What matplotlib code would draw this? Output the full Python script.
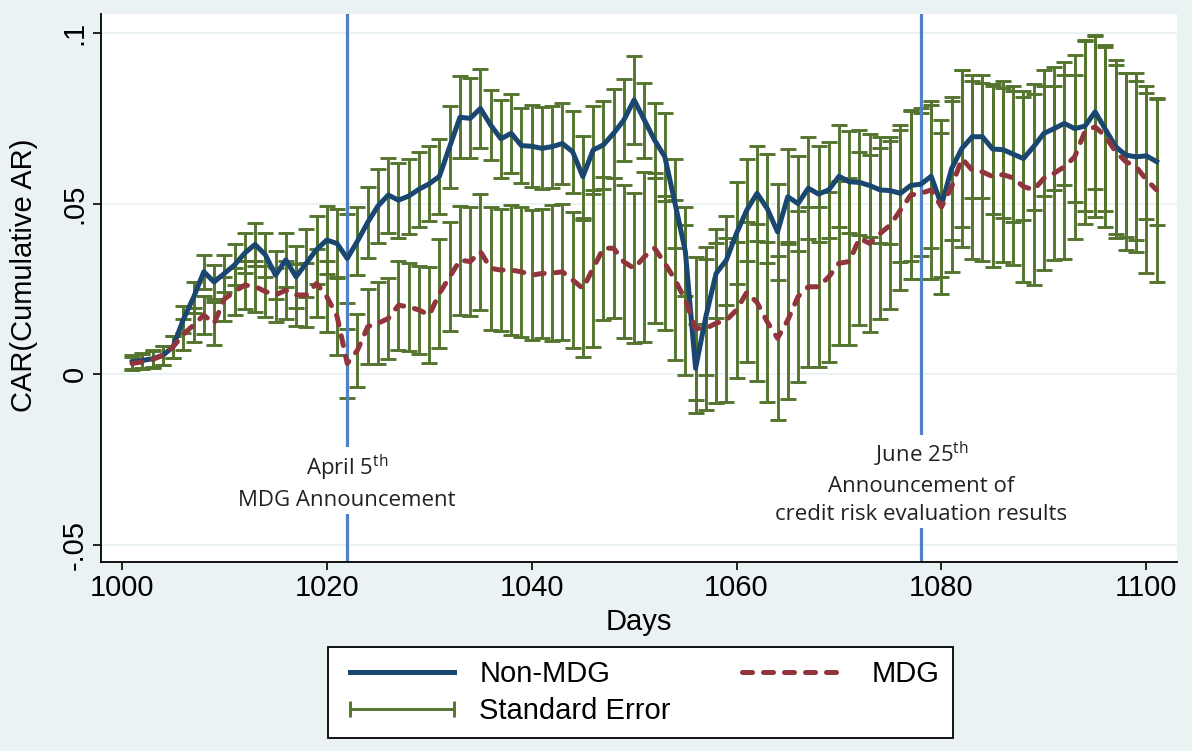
import numpy as np
import matplotlib.pyplot as plt
from matplotlib.lines import Line2D

plt.rcParams['font.family'] = ['Liberation Sans', 'DejaVu Sans']
plt.rcParams['mathtext.fontset'] = 'custom'
plt.rcParams['mathtext.rm'] = 'Open Sans'

# event window, days 1001..1101
days = np.arange(1001, 1102)

non_mdg = [0.0036, 0.0040, 0.0045, 0.0055, 0.0080,   # 1001-1005
           0.0160, 0.0225, 0.0300, 0.0270, 0.0295,   # 1006-1010
           0.0320, 0.0355, 0.0380, 0.0350, 0.0290,   # 1011-1015
           0.0335, 0.0285, 0.0325, 0.0365, 0.0393,   # 1016-1020
           0.0383, 0.0339, 0.0390, 0.0445, 0.0493,   # 1021-1025
           0.0525, 0.0510, 0.0522, 0.0542, 0.0558,   # 1026-1030
           0.0580, 0.0667, 0.0753, 0.0750, 0.0779,   # 1031-1035
           0.0730, 0.0690, 0.0706, 0.0670, 0.0668,   # 1036-1040
           0.0662, 0.0667, 0.0676, 0.0652, 0.0579,   # 1041-1045
           0.0657, 0.0672, 0.0706, 0.0745, 0.0804,   # 1046-1050
           0.0745, 0.0686, 0.0637, 0.0500, 0.0360,   # 1051-1055
           0.0017, 0.0168, 0.0295, 0.0334, 0.0413,   # 1056-1060
           0.0481, 0.0530, 0.0485, 0.0417, 0.0520,   # 1061-1065
           0.0500, 0.0545, 0.0528, 0.0540, 0.0580,   # 1066-1070
           0.0564, 0.0562, 0.0553, 0.0540, 0.0538,   # 1071-1075
           0.0530, 0.0553, 0.0557, 0.0580, 0.0496,   # 1076-1080
           0.0603, 0.0662, 0.0696, 0.0696, 0.0660,   # 1081-1085
           0.0658, 0.0645, 0.0632, 0.0667, 0.0706,   # 1086-1090
           0.0720, 0.0735, 0.0720, 0.0727, 0.0769,   # 1091-1095
           0.0718, 0.0667, 0.0642, 0.0637, 0.0640,   # 1096-1100
           0.0623]

mdg = [0.0031, 0.0036, 0.0043, 0.0055, 0.0080,   # 1001-1005
       0.0116, 0.0144, 0.0173, 0.0148, 0.0220,   # 1006-1010
       0.0242, 0.0261, 0.0257, 0.0242, 0.0232,   # 1011-1015
       0.0246, 0.0232, 0.0232, 0.0266, 0.0227,   # 1016-1020
       0.0170, 0.0031, 0.0070, 0.0139, 0.0149,   # 1021-1025
       0.0163, 0.0202, 0.0197, 0.0188, 0.0173,   # 1026-1030
       0.0237, 0.0285, 0.0334, 0.0330, 0.0359,   # 1031-1035
       0.0310, 0.0305, 0.0305, 0.0300, 0.0290,   # 1036-1040
       0.0295, 0.0296, 0.0300, 0.0276, 0.0251,   # 1041-1045
       0.0310, 0.0369, 0.0369, 0.0329, 0.0310,   # 1046-1050
       0.0344, 0.0369, 0.0325, 0.0276, 0.0217,   # 1051-1055
       0.0134, 0.0134, 0.0149, 0.0158, 0.0188,   # 1056-1060
       0.0240, 0.0210, 0.0153, 0.0105, 0.0158,   # 1061-1065
       0.0227, 0.0256, 0.0256, 0.0285, 0.0325,   # 1066-1070
       0.0330, 0.0398, 0.0383, 0.0412, 0.0437,   # 1071-1075
       0.0481, 0.0525, 0.0530, 0.0540, 0.0490,   # 1076-1080
       0.0550, 0.0632, 0.0598, 0.0593, 0.0579,   # 1081-1085
       0.0585, 0.0575, 0.0550, 0.0540, 0.0574,   # 1086-1090
       0.0589, 0.0608, 0.0637, 0.0711, 0.0725,   # 1091-1095
       0.0698, 0.0652, 0.0623, 0.0608, 0.0570,   # 1096-1100
       0.0540]

se_non_mdg = [0.0020, 0.0022, 0.0025, 0.0028, 0.0032,
              0.0040, 0.0045, 0.0050, 0.0050, 0.0055,
              0.0060, 0.0060, 0.0062, 0.0065, 0.0070,
              0.0080, 0.0090, 0.0100, 0.0100, 0.0100,
              0.0100, 0.0130, 0.0100, 0.0105, 0.0108,
              0.0110, 0.0110, 0.0110, 0.0110, 0.0110,
              0.0110, 0.0120, 0.0120, 0.0117, 0.0116,
              0.0103, 0.0114, 0.0115, 0.0110, 0.0120,
              0.0120, 0.0120, 0.0120, 0.0120, 0.0120,
              0.0130, 0.0130, 0.0130, 0.0120, 0.0130,
              0.0110, 0.0110, 0.0130, 0.0130, 0.0130,
              0.0130, 0.0170, 0.0130, 0.0130, 0.0150,
              0.0150, 0.0140, 0.0160, 0.0140, 0.0140,
              0.0140, 0.0150, 0.0140, 0.0140, 0.0150,
              0.0150, 0.0155, 0.0150, 0.0156, 0.0156,
              0.0200, 0.0220, 0.0210, 0.0210, 0.0210,
              0.0210, 0.0230, 0.0180, 0.0180, 0.0190,
              0.0200, 0.0200, 0.0180, 0.0185, 0.0185,
              0.0180, 0.0180, 0.0215, 0.0250, 0.0225,
              0.0240, 0.0255, 0.0240, 0.0245, 0.0185,
              0.0185]

se_mdg = [0.0020, 0.0022, 0.0025, 0.0028, 0.0032,
          0.0045, 0.0050, 0.0055, 0.0063, 0.0065,
          0.0068, 0.0070, 0.0074, 0.0075, 0.0080,
          0.0085, 0.0090, 0.0095, 0.0100, 0.0105,
          0.0114, 0.0100, 0.0107, 0.0110, 0.0120,
          0.0120, 0.0130, 0.0130, 0.0130, 0.0140,
          0.0160, 0.0160, 0.0160, 0.0160, 0.0170,
          0.0180, 0.0180, 0.0190, 0.0190, 0.0190,
          0.0190, 0.0200, 0.0200, 0.0200, 0.0200,
          0.0230, 0.0210, 0.0206, 0.0224, 0.0220,
          0.0250, 0.0220, 0.0196, 0.0235, 0.0220,
          0.0210, 0.0240, 0.0235, 0.0240, 0.0200,
          0.0206, 0.0230, 0.0234, 0.0240, 0.0230,
          0.0250, 0.0235, 0.0235, 0.0250, 0.0240,
          0.0245, 0.0254, 0.0260, 0.0250, 0.0247,
          0.0235, 0.0245, 0.0250, 0.0260, 0.0255,
          0.0250, 0.0260, 0.0260, 0.0260, 0.0265,
          0.0255, 0.0255, 0.0280, 0.0280, 0.0270,
          0.0255, 0.0270, 0.0240, 0.0270, 0.0265,
          0.0266, 0.0254, 0.0260, 0.0250, 0.0275,
          0.0270]

event_days = [1022, 1078]
event_labels = ["April 5$^{\\mathrm{th}}$\nMDG Announcement",
                "June 25$^{\\mathrm{th}}$\nAnnouncement of\ncredit risk evaluation results"]
event_label_y = [-0.0316, -0.0318]

y_ticks = [-0.05, 0, 0.05, 0.1]
y_ticklabels = ["-.05", "0", ".05", ".1"]
x_ticks = [1000, 1020, 1040, 1060, 1080, 1100]

navy = "#1a476f"
maroon = "#90353b"
green = "#55752f"
vline_col = "#4f81c4"
bg = "#eaf2f3"

fig = plt.figure(figsize=(11.92, 7.51), dpi=100, facecolor=bg)
ax = fig.add_axes([0.0847, 0.2517, 0.9027, 0.7297])
ax.set_facecolor("white")

for vals, se in [(non_mdg, se_non_mdg), (mdg, se_mdg)]:
    ax.errorbar(days, vals, yerr=se, fmt="none", ecolor=green,
                elinewidth=2.1, capsize=5.5, capthick=2.1, zorder=2)

for d in event_days:
    ax.axvline(d, color=vline_col, lw=2.3, zorder=2.5)

ax.plot(days, non_mdg, color=navy, lw=3.6, zorder=3, solid_joinstyle="round")
ax.plot(days, mdg, color=maroon, lw=3.6, ls=(0, (2.0, 2.2)),
        dash_capstyle="round", zorder=3)

for d, txt, y in zip(event_days, event_labels, event_label_y):
    ax.text(d, y, txt, ha="center", va="center", fontsize=16,
            family=["Open Sans", "DejaVu Sans"], linespacing=1.45,
            color="#222222", zorder=4,
            bbox=dict(facecolor="white", edgecolor="none", pad=2))

ax.set_xlim(997.96, 1102.99)
ax.set_ylim(-0.0551, 0.1056)
ax.set_xticks(x_ticks)
ax.set_yticks(y_ticks)
ax.set_yticklabels(y_ticklabels, rotation=90, va="center")
ax.tick_params(labelsize=21, length=6, width=1.2, color="black", pad=3)
ax.grid(axis="y", color=bg, lw=1.3)
ax.set_axisbelow(True)
for s in ["top", "right"]:
    ax.spines[s].set_visible(False)
for s in ["left", "bottom"]:
    ax.spines[s].set_linewidth(1.3)

ax.set_xlabel("Days", fontsize=21, labelpad=4)
ax.set_ylabel("CAR(Cumulative AR)", fontsize=21)
ax.yaxis.set_label_coords(-0.0586, 0.524)

h_non = Line2D([], [], color=navy, lw=3.6)
h_mdg = Line2D([], [], color=maroon, lw=3.6, ls=(0, (2.0, 2.2)), dash_capstyle="round")
h_se = Line2D([], [], color=green, lw=2.1, marker="|", markersize=12, markeredgewidth=2.1)
leg = fig.legend([h_non, h_se, h_mdg], ["Non-MDG", "Standard Error", "MDG"],
                 ncol=2, loc="center", bbox_to_anchor=(0.5373, 0.0779),
                 numpoints=2, fancybox=False, edgecolor="black", framealpha=1,
                 fontsize=21, handlelength=4.15, columnspacing=2.15,
                 borderpad=0.45, labelspacing=0.3, handletextpad=0.58)
leg.get_frame().set_linewidth(1.3)

fig.savefig("out.png", dpi=100, facecolor=bg)
